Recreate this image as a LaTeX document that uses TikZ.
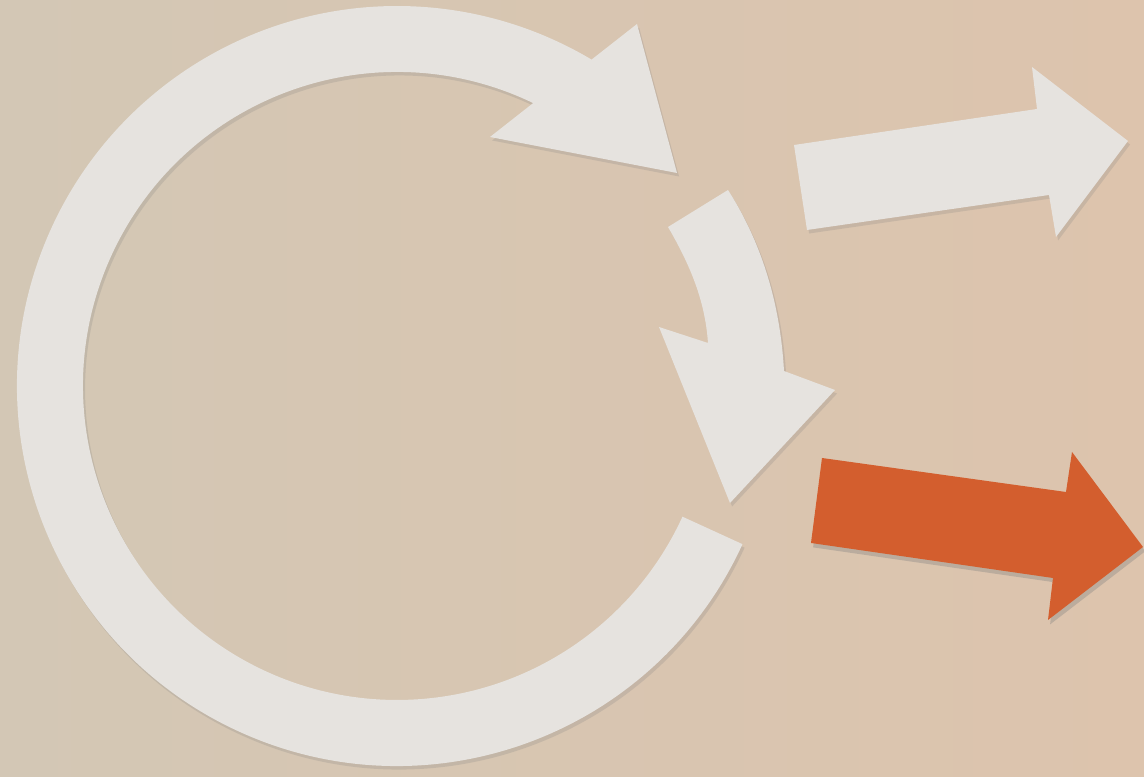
\documentclass[tikz,border=0pt]{standalone}
\usepackage{xcolor}
\usepackage{tikz}
\usetikzlibrary{calc,shadows}
\definecolor{paperleft}{RGB}{211,199,181}
\definecolor{paperright}{RGB}{221,196,173}
\definecolor{chalk}{RGB}{230,227,223}
\definecolor{rust}{RGB}{211,94,46}
\tikzset{
  chalkarrow/.style={fill=chalk, draw=none,
    drop shadow={shadow xshift=1.2pt, shadow yshift=-2pt, opacity=0.22}},
  rustarrow/.style={fill=rust, draw=none,
    drop shadow={shadow xshift=1.2pt, shadow yshift=-2.5pt, opacity=0.35}}
}

\begin{document}
\begin{tikzpicture}[x=0.02cm, y=0.02cm]
% Paper
\fill[left color=paperleft, right color=paperright] (0,0) rectangle (1144,777);
\useasboundingbox (0,0) rectangle (1144,777);

% Big cycle
\coordinate (hub) at (397,391);
\fill[chalkarrow] ($(hub)+(-24.6:380)$) arc[start angle=-24.6, end angle=-300.8, radius=380]
  -- (637,753) -- (677,604) -- (490,640) -- ($(hub)+(64.3:314)$)
  arc[start angle=-295.7, end angle=-24.6, radius=314] -- cycle;

% Bent arrow
\fill[chalkarrow] (668,550) .. controls (690,512) and (705,477) .. (708,434)
  -- (659,450) -- (730,274) -- (835,387) -- (784,406)
  .. controls (780,477) and (760,537) .. (728,587) -- cycle;

% Upper straight arrow
\fill[chalkarrow] (794,632) -- (1037,668) -- (1032,710) -- (1128,636)
  -- (1056,540) -- (1049,582) -- (807,547) -- cycle;

% Lower straight arrow
\fill[rustarrow] (822,319) -- (1066,285) -- (1072,325) -- (1143,230)
  -- (1048,157) -- (1053,199) -- (811,234) -- cycle;
\end{tikzpicture}
\end{document}
